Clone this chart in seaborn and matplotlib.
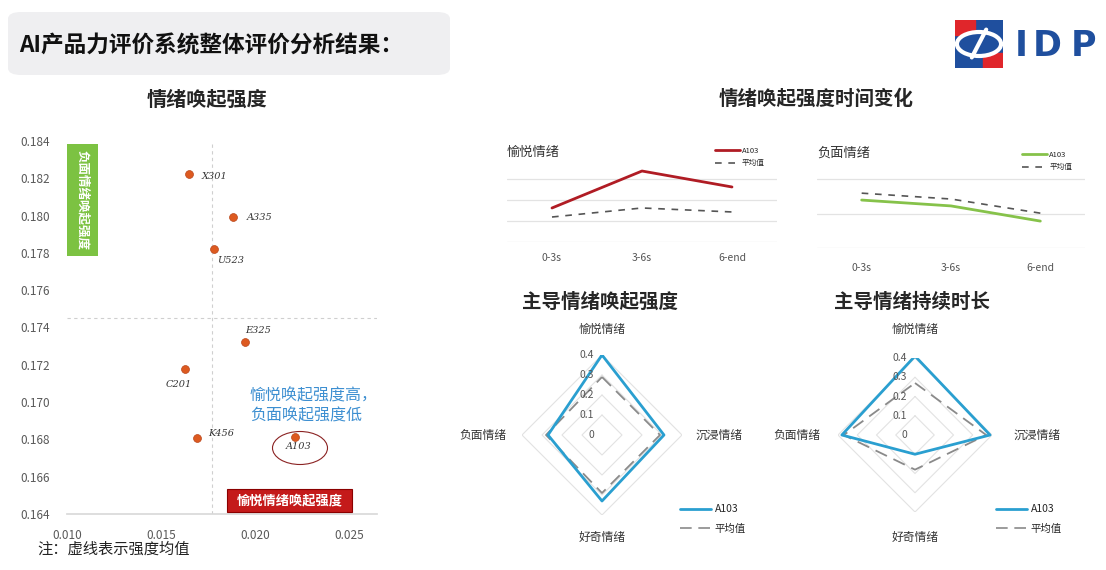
import numpy as np
import matplotlib
matplotlib.use("Agg")
import matplotlib.pyplot as plt
import seaborn as sns
from matplotlib.patches import FancyBboxPatch, Rectangle, Ellipse
from matplotlib.lines import Line2D

# ============================
# 数据
# ============================
# 情绪唤起强度（散点）
products = ["X301", "A335", "U523", "E325", "C201", "K456", "A103"]
joy_strength = [0.01648, 0.01886, 0.01782, 0.01947, 0.01626, 0.01694, 0.02216]
neg_strength = [0.18223, 0.17993, 0.17819, 0.17324, 0.17177, 0.16809, 0.16815]
joy_mean = 0.0177
neg_mean = 0.1745
x_ticks = [0.010, 0.015, 0.020, 0.025]
y_ticks = [0.164, 0.166, 0.168, 0.170, 0.172, 0.174, 0.176, 0.178, 0.180, 0.182, 0.184]

# 情绪唤起强度时间变化
periods = ["0-3s", "3-6s", "6-end"]
joy_a103 = [1.62, 3.38, 2.62]
joy_avg = [1.19, 1.62, 1.43]
neg_a103 = [1.39, 1.22, 0.78]
neg_avg = [1.59, 1.42, 1.01]

# 雷达图
emotions = ["愉悦情绪", "沉浸情绪", "好奇情绪", "负面情绪"]
strength_a103 = [0.40, 0.31, 0.33, 0.27]
strength_avg = [0.29, 0.29, 0.29, 0.28]
duration_a103 = [0.41, 0.39, 0.10, 0.38]
duration_avg = [0.27, 0.37, 0.18, 0.37]
r_ticks = [0, 0.1, 0.2, 0.3, 0.4]

W, H = 1106, 570


def fx(px):
    return px / W


def fy(py):
    return 1 - py / H


sns.set_theme(style="white")
plt.rcParams['font.family'] = ['Noto Sans CJK SC', 'DejaVu Sans']
plt.rcParams['axes.unicode_minus'] = False

fig = plt.figure(figsize=(W / 100, H / 100), dpi=100)
fig.patch.set_facecolor("white")

# ============================
# 标题栏 + logo
# ============================
fig.add_artist(FancyBboxPatch((fx(8), fy(75)), 442 / W, 63 / H,
                              boxstyle="round,pad=0,rounding_size=0.012",
                              transform=fig.transFigure, fc="#efeff1", ec="none"))
fig.text(fx(19), fy(46), "AI产品力评价系统整体评价分析结果：", fontsize=16.3,
         fontweight="bold", va="center", color="#111111")

logo = fig.add_axes([fx(955), fy(68), 48 / W, 48 / H])
logo.set_xlim(0, 1)
logo.set_ylim(0, 1)
logo.axis("off")
logo.add_patch(Rectangle((0, 0), 1, 1, color="#1f4f9e"))
logo.add_patch(Rectangle((0, 0.68), 0.42, 0.32, color="#e0262b"))
logo.add_patch(Rectangle((0.58, 0), 0.42, 0.32, color="#e0262b"))
logo.add_patch(Ellipse((0.5, 0.5), 0.92, 0.5, fc="#1f4f9e", ec="white", lw=3))
logo.plot([0.35, 0.65], [0.22, 0.8], color="white", lw=3)
for ch, px in zip("IDP", [1021, 1047, 1083]):
    fig.text(fx(px), fy(46), ch, fontsize=25, fontweight="bold", color="#1f4f9e",
             ha="center", va="center", family="DejaVu Sans")

# ============================
# 1. 情绪唤起强度 散点图
# ============================
fig.text(fx(207), fy(99), "情绪唤起强度", ha="center", va="center", fontsize=14.5, fontweight="bold")

ax = fig.add_axes([fx(67), fy(514), 310 / W, 373 / H])
sns.scatterplot(x=joy_strength, y=neg_strength, ax=ax, s=32, color="#dd5a20",
                edgecolor="#b84418", linewidth=0.5, zorder=3)
ax.axvline(joy_mean, color="#cfcfcf", lw=0.8, ls=(0, (3, 3)), zorder=1)
ax.axhline(neg_mean, color="#cfcfcf", lw=0.8, ls=(0, (3, 3)), zorder=1)
ax.set_xlim(0.010, 0.0265)
ax.set_ylim(0.164, 0.184)
ax.set_xticks(x_ticks)
ax.set_yticks(y_ticks)
ax.set_xticklabels([f"{v:.3f}" for v in x_ticks])
ax.set_yticklabels([f"{v:.3f}" for v in y_ticks])
ax.tick_params(length=0, labelsize=8.5, colors="#595959")
ax.tick_params(axis="y", pad=12)
ax.tick_params(axis="x", pad=11)
for s in ["top", "right", "left"]:
    ax.spines[s].set_visible(False)
ax.spines["bottom"].set_color("#d9d9d9")
ax.patch.set_alpha(0)

label_offsets = {"X301": (13, -2), "A335": (13, -1), "U523": (3, -11), "E325": (0, 11),
                 "C201": (-19, -15), "K456": (11, 4), "A103": (-10, -10)}
for name, xv, yv in zip(products, joy_strength, neg_strength):
    ax.annotate(name, (xv, yv), xytext=label_offsets[name], textcoords="offset pixels",
                ha="left", va="center", fontsize=7, fontstyle="italic", color="#333333",
                family="DejaVu Serif")

fig.add_artist(Rectangle((fx(67), fy(256)), 31 / W, 112 / H, transform=fig.transFigure,
                         fc="#7cc242", ec="none"))
fig.text(fx(82.5), fy(200), "负面情绪唤起强度", rotation=270, ha="center", va="center",
         color="white", fontsize=9, fontweight="bold")
fig.add_artist(Rectangle((fx(227), fy(512)), 125 / W, 23 / H, transform=fig.transFigure,
                         fc="#c41a1a", ec="#8b0000", lw=0.8))
fig.text(fx(289.5), fy(500.5), "愉悦情绪唤起强度", ha="center", va="center",
         color="white", fontsize=9.5, fontweight="bold")
fig.text(fx(250), fy(387), "愉悦唤起强度高，\n负面唤起强度低", ha="left", va="top",
         color="#3d8fd1", fontsize=11.5, linespacing=1.25)
fig.add_artist(Ellipse((fx(300), fy(448)), 55 / W, 33 / H, transform=fig.transFigure,
                       fc="none", ec="#8b2323", lw=0.8))
fig.text(fx(37), fy(549), "注：虚线表示强度均值", ha="left", va="center", fontsize=11, color="#222222")

# ============================
# 2. 情绪唤起强度时间变化
# ============================
fig.text(fx(816), fy(99), "情绪唤起强度时间变化", ha="center", va="center", fontsize=14, fontweight="bold")


def time_chart(rect, a103, avg, color, title, ymax, yt, title_y, leg_anchor, pad):
    a = fig.add_axes(rect)
    sns.lineplot(x=periods, y=a103, ax=a, color=color, lw=2, label="A103", sort=False)
    sns.lineplot(x=periods, y=avg, ax=a, color="#555555", lw=1.2, linestyle=(0, (4, 4)),
                 label="平均值", sort=False)
    a.set_xlim(-0.5, 2.5)
    a.set_ylim(0, ymax)
    a.set_yticks(yt)
    a.set_yticklabels([])
    a.yaxis.grid(True, color="#e3e3e3", lw=0.9)
    for s in a.spines.values():
        s.set_visible(False)
    a.tick_params(length=0, labelsize=7.5, colors="#555555")
    a.tick_params(axis="x", pad=pad)
    a.set_xlabel("")
    a.set_ylabel("")
    a.text(0, title_y, title, transform=a.transAxes, fontsize=9.5, va="center", color="#333333")
    a.legend(loc="upper left", bbox_to_anchor=leg_anchor, frameon=False, fontsize=5.5,
             handlelength=3.2, handletextpad=0.3, labelspacing=0.6, borderaxespad=0)
    a.patch.set_alpha(0)
    return a


time_chart([fx(507), fy(242), 270 / W, 94.5 / H], joy_a103, joy_avg, "#b01c24", "愉悦情绪",
           4.5, [0, 1, 2, 3], 0.952, (0.76, 1.04), 8)
time_chart([fx(817), fy(248), 268 / W, 98.3 / H], neg_a103, neg_avg, "#86c24a", "负面情绪",
           2.85, [0, 1, 2], 0.966, (0.755, 1.02), 11)

# ============================
# 3. 雷达图
# ============================
angles = np.linspace(0, 2 * np.pi, len(emotions) + 1)


def radar(rect, a103, avg, title, title_x, lab_r, leg_anchor):
    fig.text(fx(title_x), fy(302), title, ha="center", va="center", fontsize=14, fontweight="bold")
    a = fig.add_axes(rect, projection="polar")
    a.set_theta_offset(np.pi / 2)
    a.set_theta_direction(-1)
    a.set_ylim(0, max(r_ticks))
    a.grid(False)
    a.spines["polar"].set_visible(False)
    a.set_xticks([])
    a.set_yticks([])
    a.patch.set_alpha(0)
    for r in r_ticks[1:]:
        a.plot(angles, [r] * len(angles), color="#e2e2e2", lw=0.8, zorder=1)
    a.plot(angles, avg + avg[:1], color="#8a8a8a", lw=1.3, dashes=(7, 4), zorder=2)
    a.plot(angles, a103 + a103[:1], color="#2a9fd0", lw=2, zorder=3)
    for r in r_ticks:
        a.annotate(f"{r:g}", (0, r), xytext=(-8, 0), textcoords="offset pixels",
                   ha="right", va="center", fontsize=7.5, color="#555555")
    aligns = [("center", "center"), ("left", "center"), ("center", "center"), ("right", "center")]
    for ang, lab, rr, (ha, va) in zip(angles[:-1], emotions, lab_r, aligns):
        a.text(ang, rr, lab, ha=ha, va=va, fontsize=8.5, color="#333333", clip_on=False)
    handles = [Line2D([], [], color="#2a9fd0", lw=2),
               Line2D([], [], color="#8a8a8a", lw=1.2, dashes=(7, 4))]
    a.legend(handles, ["A103", "平均值"], loc="upper left", bbox_to_anchor=leg_anchor,
             bbox_transform=fig.transFigure, frameon=False, fontsize=7.5,
             handlelength=3, handletextpad=0.3, labelspacing=0.9, borderaxespad=0)


radar([fx(522), fy(515), 160 / W, 160 / H], strength_a103, strength_avg, "主导情绪唤起强度", 600,
      [0.53, 0.47, 0.51, 0.48], (fx(676), fy(500)))
radar([fx(838), fy(512), 154 / W, 154 / H], duration_a103, duration_avg, "主导情绪持续时长", 912,
      [0.55, 0.51, 0.53, 0.49], (fx(992), fy(500)))

fig.savefig("out.png", dpi=100, facecolor="white")
